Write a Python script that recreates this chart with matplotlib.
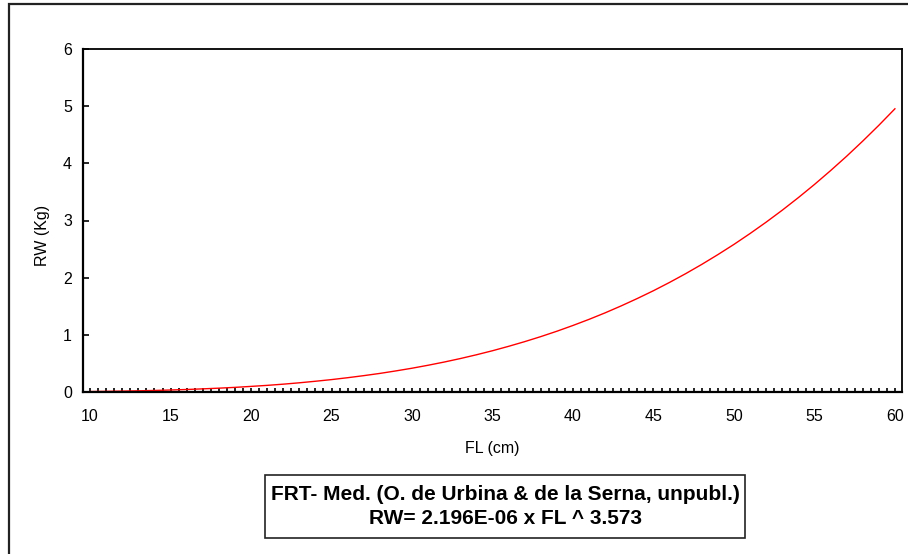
import matplotlib
matplotlib.use("Agg")
import matplotlib.pyplot as plt
from matplotlib.patches import Rectangle
from matplotlib.ticker import MultipleLocator

plt.rcParams['font.family'] = ['Liberation Sans', 'DejaVu Sans']

fl = list(range(10, 61))
rw = [0.008, 0.012, 0.016, 0.021, 0.027, 0.035, 0.044, 0.055, 0.067, 0.081,
      0.098, 0.116, 0.137, 0.161, 0.188, 0.217, 0.250, 0.286, 0.325, 0.369,
      0.416, 0.468, 0.524, 0.585, 0.651, 0.722, 0.799, 0.881, 0.969, 1.063,
      1.164, 1.271, 1.385, 1.507, 1.636, 1.772, 1.917, 2.070, 2.232, 2.403,
      2.582, 2.772, 2.971, 3.180, 3.400, 3.630, 3.872, 4.124, 4.389, 4.665,
      4.954]
x_ticks = [10, 15, 20, 25, 30, 35, 40, 45, 50, 55, 60]
y_ticks = [0, 1, 2, 3, 4, 5, 6]
x_label = "FL (cm)"
y_label = "RW (Kg)"
box_line1 = "FRT- Med. (O. de Urbina & de la Serna, unpubl.)"
box_line2 = "RW= 2.196E-06 x FL ^ 3.573"

W, H = 908, 554
fig = plt.figure(figsize=(W / 100, H / 100), dpi=100)

def fx(px):
    return px / W

def fy(py):
    return 1 - py / H

# outer frame
fig.patches.append(Rectangle((fx(9), fy(600)), fx(950), fy(4) - fy(600),
                             transform=fig.transFigure, fill=False,
                             edgecolor='#222222', linewidth=1.6))

ax = fig.add_axes([fx(83), fy(392), fx(902) - fx(83), fy(49) - fy(392)])
ax.plot(fl, rw, color='#ff0000', linewidth=1.0)
ax.set_xlim(9.56, 60.44)
ax.set_ylim(0, 6)
ax.set_xticks(x_ticks)
ax.set_yticks(y_ticks)
ax.xaxis.set_minor_locator(MultipleLocator(0.5))
ax.tick_params(axis='x', which='both', direction='in', length=3, width=1.2,
               pad=12, labelsize=11.5)
ax.tick_params(axis='y', which='major', direction='in', length=4, width=1.2,
               pad=8, labelsize=11.5)
for s in ['left', 'bottom']:
    ax.spines[s].set_linewidth(1.6)
for s in ['top', 'right']:
    ax.spines[s].set_linewidth(1.3)

fig.text(fx(492), fy(448), x_label, ha='center', va='center', fontsize=11.5)
fig.text(fx(42), fy(235), y_label, ha='center', va='center', rotation=90,
         fontsize=11.5)

fig.patches.append(Rectangle((fx(265), fy(538)), fx(745) - fx(265),
                             fy(475) - fy(538), transform=fig.transFigure,
                             fill=False, edgecolor='#222222', linewidth=1.2))
fig.text(fx(505), fy(495), box_line1, ha='center', va='center',
         fontsize=15, fontweight='bold')
fig.text(fx(505), fy(518), box_line2, ha='center', va='center',
         fontsize=15, fontweight='bold')

fig.savefig("out.png", dpi=100)
